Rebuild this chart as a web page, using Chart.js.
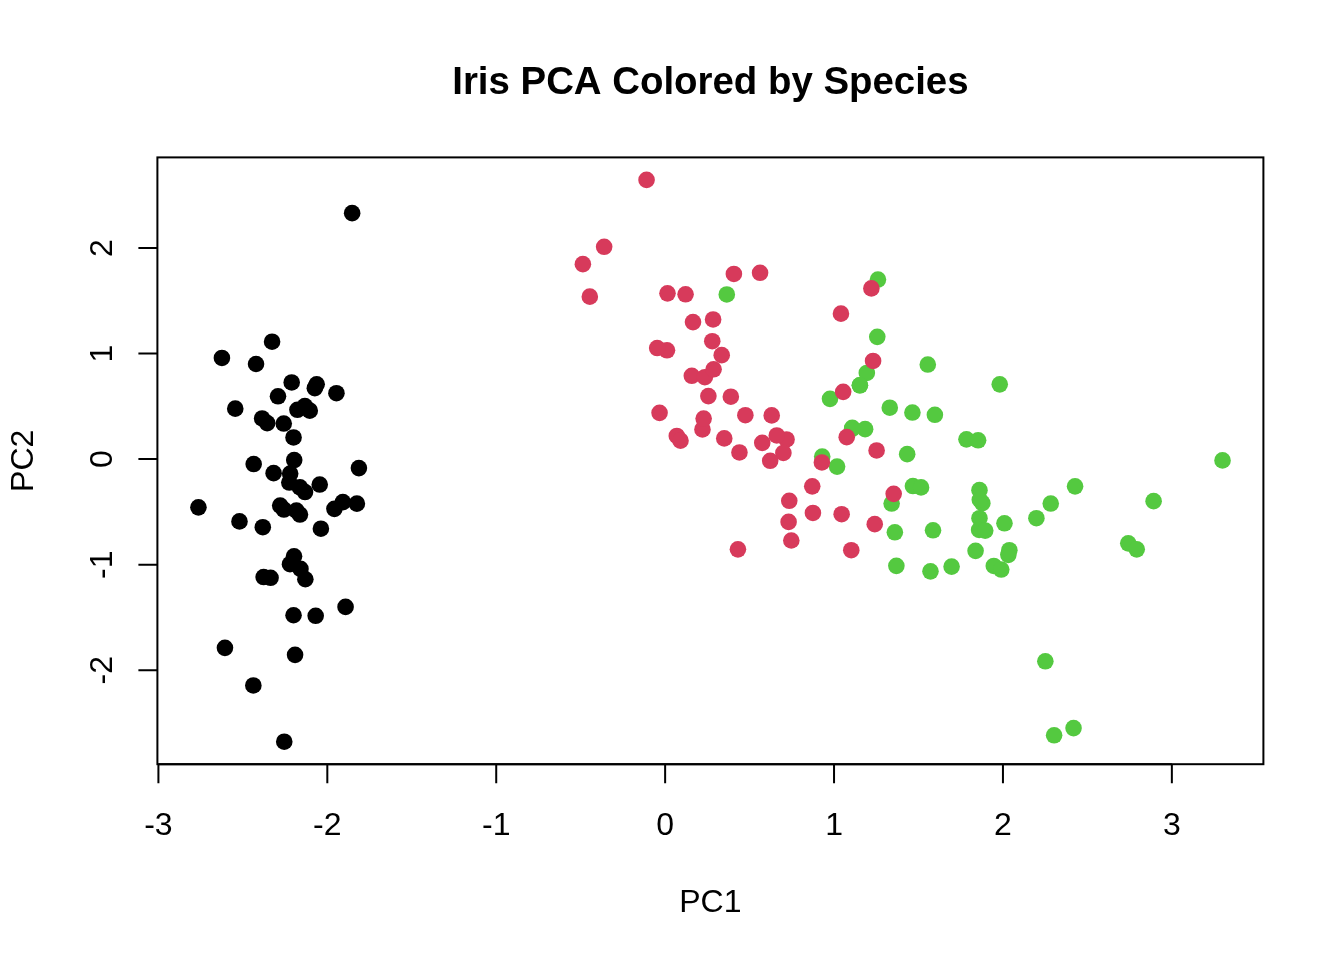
<!DOCTYPE html>
<html>
<head>
<meta charset="utf-8">
<title>Iris PCA Colored by Species</title>
<script src="https://cdn.jsdelivr.net/npm/chart.js@4.4.1/dist/chart.umd.min.js"></script>
<style>
  html, body { margin: 0; padding: 0; background: #fff; }
  #wrap { width: 1344px; height: 960px; }
</style>
</head>
<body>
<div id="wrap"><canvas id="chart" width="1344" height="960"></canvas></div>
<script>
// PCA scores (PC1, PC2), grouped by species
const species = ['setosa', 'versicolor', 'virginica'];
const speciesColors = ['#000000', '#D73A5B', '#54C940'];

const setosaPC1 = [-2.257, -2.074, -2.356, -2.292, -2.382, -2.069, -2.436, -2.225, -2.327, -2.177,
  -2.159, -2.318, -2.211, -2.624, -2.191, -2.255, -2.200, -2.183, -1.892, -2.336,
  -1.908, -2.197, -2.763, -1.813, -2.220, -1.946, -2.045, -2.162, -2.132, -2.258,
  -2.133, -1.825, -2.606, -2.438, -2.104, -2.200, -2.038, -2.520, -2.422, -2.162,
  -2.279, -1.853, -2.545, -1.958, -2.130, -2.063, -2.377, -2.386, -2.221, -2.196];
const setosaPC2 = [-0.478, 0.672, 0.341, 0.595, -0.645, -1.484, -0.047, -0.222, 1.112, 0.467,
  -1.040, -0.133, 0.726, 0.958, -1.854, -2.677, -1.479, -0.487, -1.400, -1.124,
  -0.407, -0.921, -0.457, -0.085, -0.137, 0.624, -0.241, -0.525, -0.312, 0.337,
  0.503, -0.422, -1.788, -2.144, 0.459, 0.205, -0.659, -0.590, 0.901, -0.268,
  -0.440, 2.330, 0.478, -0.471, -1.138, 0.709, -1.117, 0.385, -0.995, -0.009];

const versicolorPC1 = [1.102, 0.731, 1.241, 0.407, 1.075, 0.389, 0.747, -0.487, 0.928, 0.011,
  -0.110, 0.440, 0.562, 0.719, -0.033, 0.875, 0.350, 0.158, 1.221, 0.165,
  0.735, 0.475, 1.231, 0.631, 0.700, 0.871, 1.252, 1.353, 0.661, -0.047,
  0.121, 0.014, 0.235, 1.054, 0.221, 0.431, 1.045, 1.041, 0.069, 0.284,
  0.279, 0.622, 0.335, -0.361, 0.287, 0.091, 0.228, 0.575, -0.446, 0.256];
const versicolorPC2 = [-0.863, -0.595, -0.616, 1.754, 0.208, 0.591, -0.771, 1.847, -0.032, 1.031,
  2.645, 0.063, 1.765, 0.186, 0.438, -0.510, 0.196, 0.789, 1.617, 1.298,
  -0.395, 0.416, 0.930, 0.414, 0.058, -0.258, 0.082, -0.329, 0.224, 1.052,
  1.561, 1.570, 0.776, 0.637, 0.281, -0.855, -0.522, 1.378, 0.219, 1.323,
  1.117, -0.016, 0.985, 2.011, 0.851, 0.175, 0.384, 0.154, 1.539, 0.597];

const virginicaPC1 = [1.838, 1.153, 2.198, 1.433, 1.861, 2.742, 0.365, 2.283, 1.981, 2.251,
  1.360, 1.597, 1.878, 1.256, 1.464, 1.586, 1.467, 2.418, 3.300, 1.260,
  2.032, 0.976, 2.892, 1.330, 1.696, 1.946, 1.184, 1.107, 1.784, 1.861,
  2.427, 2.303, 1.853, 1.108, 1.194, 2.792, 1.571, 1.341, 1.018, 1.859,
  2.009, 1.895, 1.153, 2.038, 1.990, 1.863, 1.555, 1.515, 1.369, 0.930];
const virginicaPC2 = [-0.869, 0.699, -0.560, 0.047, -0.294, -0.798, 1.560, -0.421, 0.708, -1.915,
  -0.693, 0.420, -0.418, 1.158, 0.441, -0.674, -0.255, -2.548, -0.012, 1.701,
  -0.907, 0.571, -0.398, 0.487, -1.018, -1.012, 0.284, 0.287, 0.187, -0.560,
  -0.258, -2.616, 0.178, 0.296, 0.816, -0.855, -1.063, -0.421, -0.071, -0.671,
  -0.608, -0.677, 0.699, -0.863, -1.046, -0.385, 0.896, -0.268, -1.011, 0.024];

const xTicks = [-3, -2, -1, 0, 1, 2, 3];
const yTicks = [-2, -1, 0, 1, 2];

const toPoints = (xs, ys) => xs.map((x, i) => ({ x: x, y: ys[i] }));
const seriesPC1 = [setosaPC1, versicolorPC1, virginicaPC1];
const seriesPC2 = [setosaPC2, versicolorPC2, virginicaPC2];

const FONT = '"Liberation Sans", Arial, Helvetica, sans-serif';

// base-graphics style frame, ticks and labels
const basePlotFrame = {
  id: 'basePlotFrame',
  afterDraw(chart) {
    const ctx = chart.ctx;
    const area = chart.chartArea;
    const xs = chart.scales.x;
    const ys = chart.scales.y;
    const tickLen = 19;

    ctx.save();
    ctx.strokeStyle = '#000';
    ctx.lineWidth = 2;
    ctx.strokeRect(area.left, area.top, area.right - area.left, area.bottom - area.top);

    // x axis ticks
    ctx.beginPath();
    xTicks.forEach(v => {
      const px = xs.getPixelForValue(v);
      ctx.moveTo(px, area.bottom);
      ctx.lineTo(px, area.bottom + tickLen);
    });
    ctx.moveTo(xs.getPixelForValue(xTicks[0]), area.bottom);
    ctx.lineTo(xs.getPixelForValue(xTicks[xTicks.length - 1]), area.bottom);
    // y axis ticks
    yTicks.forEach(v => {
      const py = ys.getPixelForValue(v);
      ctx.moveTo(area.left, py);
      ctx.lineTo(area.left - tickLen, py);
    });
    ctx.stroke();

    ctx.fillStyle = '#000';
    ctx.font = '32px ' + FONT;
    ctx.textAlign = 'center';
    ctx.textBaseline = 'alphabetic';
    xTicks.forEach(v => {
      ctx.fillText(String(v), xs.getPixelForValue(v), 835);
    });
    yTicks.forEach(v => {
      ctx.save();
      ctx.translate(112, ys.getPixelForValue(v));
      ctx.rotate(-Math.PI / 2);
      ctx.fillText(String(v), 0, 0);
      ctx.restore();
    });

    const midX = (area.left + area.right) / 2;
    const midY = (area.top + area.bottom) / 2;
    ctx.fillText('PC1', midX, 912);
    ctx.save();
    ctx.translate(33, midY);
    ctx.rotate(-Math.PI / 2);
    ctx.fillText('PC2', 0, 0);
    ctx.restore();

    ctx.font = 'bold 38.4px ' + FONT;
    ctx.fillText('Iris PCA Colored by Species', midX, 94);
    ctx.restore();
  }
};

const ctx = document.getElementById('chart').getContext('2d');
new Chart(ctx, {
  type: 'scatter',
  data: {
    datasets: species.map((name, i) => ({
      label: name,
      data: toPoints(seriesPC1[i], seriesPC2[i]),
      backgroundColor: speciesColors[i],
      borderColor: speciesColors[i],
      borderWidth: 0,
      pointRadius: 8.3,
      pointHoverRadius: 8.3
    }))
  },
  options: {
    responsive: false,
    animation: false,
    devicePixelRatio: 1,
    layout: { padding: { left: 157.4, right: 80.6, top: 157.4, bottom: 195.8 } },
    scales: {
      x: { type: 'linear', min: -3.006, max: 3.542, display: false },
      y: { type: 'linear', min: -2.890, max: 2.858, display: false }
    },
    plugins: {
      legend: { display: false },
      title: { display: false },
      tooltip: { enabled: false }
    }
  },
  plugins: [basePlotFrame]
});
</script>
</body>
</html>
